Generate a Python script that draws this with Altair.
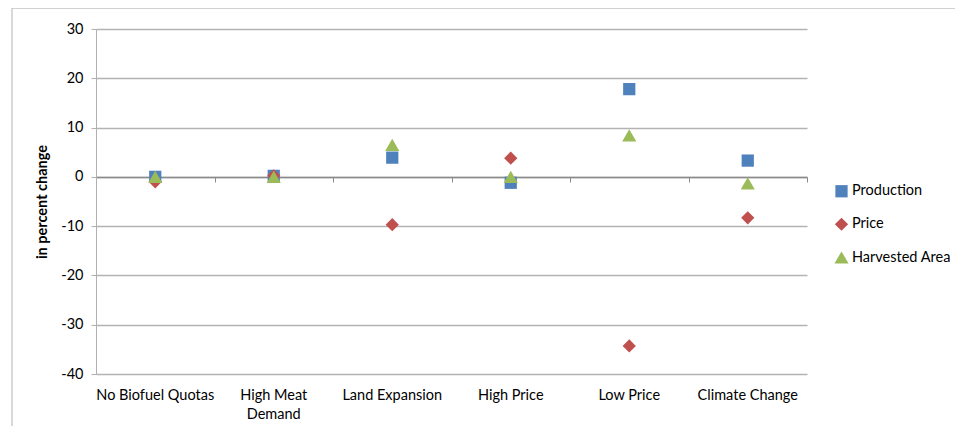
import altair as alt
import pandas as pd

scenarios = ["No Biofuel Quotas", "High Meat Demand", "Land Expansion",
             "High Price", "Low Price", "Climate Change"]
production = [0.0, 0.2, 3.9, -1.2, 17.8, 3.3]
price = [-1.0, 0.2, -9.7, 3.8, -34.3, -8.3]
harvested = [0.0, 0.0, 6.5, 0.0, 8.4, -1.3]

series = ["Production", "Price", "Harvested Area"]
colors = ["#4F81BD", "#C0504D", "#9BBB59"]
shapes = ["square", "diamond", "triangle-up"]
sizes = [150, 200, 200]

rows = []
for i, s in enumerate(scenarios):
    for name, vals in zip(series, [production, price, harvested]):
        rows.append({"scenario": s, "series": name, "value": vals[i],
                     "order": series.index(name)})
df = pd.DataFrame(rows)

FONT = "Lato"
FS = 14.5
xscale = alt.Scale(domain=scenarios, paddingInner=0, paddingOuter=0)
yscale = alt.Scale(domain=[-40, 30], nice=False)

points = alt.Chart(df).mark_point(filled=True, opacity=1).encode(
    x=alt.X("scenario:N", scale=xscale, sort=scenarios, title=None,
            axis=alt.Axis(orient="bottom", domain=False, ticks=False, labelAngle=0,
                          labelFontSize=FS, labelFont=FONT, labelColor="#000",
                          labelPadding=14, grid=False, labelLimit=200, labelLineHeight=19,
                          labelExpr="datum.label == 'High Meat Demand' ? ['High Meat', 'Demand'] : datum.label")),
    y=alt.Y("value:Q", scale=yscale, title="in percent change",
            axis=alt.Axis(values=[-40, -30, -20, -10, 0, 10, 20, 30],
                          labelExpr="'' + datum.value",
                          labelFontSize=FS, labelFont=FONT, labelColor="#000",
                          tickSize=5, tickColor="#b0b0b0", domainColor="#b0b0b0",
                          gridColor="#b3b3b3", gridWidth=1.3, labelPadding=8,
                          titleFont=FONT, titleFontSize=FS, titleFontWeight="bold",
                          titleColor="#000", titlePadding=11)),
    color=alt.Color("series:N", scale=alt.Scale(domain=series, range=colors),
                    legend=alt.Legend(title=None, orient="none", legendX=738, legendY=155,
                                      labelFont=FONT, labelFontSize=FS, labelColor="#000",
                                      labelOffset=3,
                                      rowPadding=18, symbolSize=110, symbolStrokeWidth=0)),
    shape=alt.Shape("series:N", scale=alt.Scale(domain=series, range=shapes), legend=None),
    size=alt.Size("series:N", scale=alt.Scale(domain=series, range=sizes), legend=None),
    order=alt.Order("order:Q"),
)

zero_axis = alt.Chart(pd.DataFrame({"scenario": scenarios})).mark_tick(opacity=0).encode(
    x=alt.X("scenario:N", scale=xscale, sort=scenarios, title=None,
            axis=alt.Axis(orient="bottom", labels=False, domain=True, domainColor="#8a8a8a",
                          domainWidth=1.5, ticks=True, tickBand="extent",
                          tickColor="#8a8a8a", tickSize=5, grid=False, offset=-197)),
)

frame = alt.Chart(pd.DataFrame({"a": [0]})).mark_rect(
    fill=None, stroke="#c4c4c4", strokeWidth=1.3, clip=False).encode(
    x=alt.value(-84), x2=alt.value(950), y=alt.value(-21), y2=alt.value(500))

chart = alt.layer(frame, zero_axis, points).resolve_axis(x="independent").properties(
    width=711, height=345,
    autosize=alt.AutoSizeParams(type="none"),
    padding={"left": 88, "top": 21, "right": 148, "bottom": 52},
    background="white",
).configure_view(stroke=None)

chart.save("out.html", embed_options={"renderer": "svg", "actions": False})
